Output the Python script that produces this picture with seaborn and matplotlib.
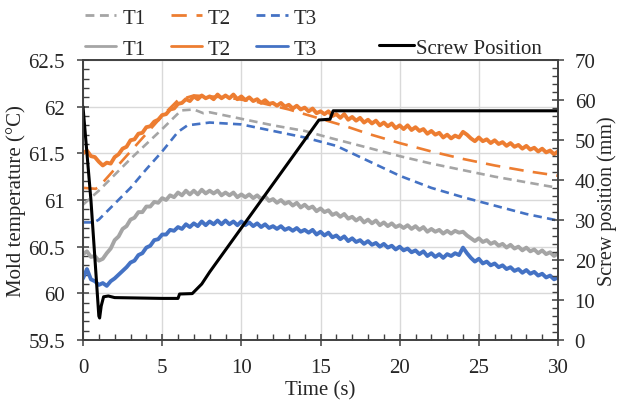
import matplotlib
matplotlib.use("Agg")
import matplotlib.pyplot as plt
import numpy as np
import seaborn as sns
from matplotlib.ticker import MultipleLocator

# time grid for the noisy thermocouple records (0.25 s steps, 0..30 s)
time_fine = np.linspace(0, 30, 121)

t2_solid = [61.50, 61.53, 61.47, 61.46, 61.41, 61.37, 61.40, 61.39, 61.46, 61.49, 61.55, 61.57, 61.64,
            61.65, 61.71, 61.72, 61.78, 61.79, 61.84, 61.86, 61.91, 61.92, 61.97, 61.98, 62.03,
            62.04, 62.08, 62.06, 62.11, 62.08, 62.12, 62.09, 62.11, 62.08, 62.13, 62.09, 62.12,
            62.09, 62.13, 62.08, 62.11, 62.07, 62.10, 62.06, 62.08, 62.04, 62.07, 62.03, 62.04,
            62.01, 62.04, 62.00, 62.02, 61.98, 62.01, 61.97, 61.99, 61.95, 61.98, 61.93, 61.95,
            61.92, 61.95, 61.90, 61.92, 61.88, 61.92, 61.86, 61.89, 61.85, 61.88, 61.83, 61.86,
            61.82, 61.85, 61.80, 61.83, 61.79, 61.82, 61.77, 61.80, 61.76, 61.80, 61.75, 61.78,
            61.74, 61.76, 61.71, 61.74, 61.70, 61.72, 61.67, 61.70, 61.66, 61.69, 61.67, 61.73,
            61.70, 61.66, 61.63, 61.67, 61.63, 61.65, 61.61, 61.64, 61.60, 61.62, 61.58, 61.61,
            61.57, 61.59, 61.55, 61.58, 61.54, 61.56, 61.52, 61.55, 61.51, 61.53, 61.49, 61.52]

t1_solid = [60.42, 60.45, 60.39, 60.40, 60.35, 60.37, 60.43, 60.48, 60.57, 60.61, 60.69, 60.72, 60.79,
            60.81, 60.87, 60.87, 60.93, 60.93, 60.98, 60.97, 61.02, 61.00, 61.05, 61.03, 61.08,
            61.05, 61.10, 61.06, 61.10, 61.06, 61.11, 61.07, 61.10, 61.07, 61.10, 61.05, 61.08,
            61.05, 61.08, 61.03, 61.06, 61.03, 61.06, 61.02, 61.05, 61.01, 61.04, 60.99, 61.01,
            60.97, 61.00, 60.96, 60.98, 60.94, 60.97, 60.92, 60.95, 60.91, 60.93, 60.88, 60.91,
            60.87, 60.89, 60.84, 60.86, 60.82, 60.85, 60.80, 60.82, 60.78, 60.81, 60.76, 60.79,
            60.75, 60.78, 60.73, 60.76, 60.72, 60.75, 60.71, 60.73, 60.70, 60.73, 60.69, 60.72,
            60.68, 60.71, 60.66, 60.69, 60.66, 60.68, 60.64, 60.67, 60.64, 60.67, 60.65, 60.66,
            60.62, 60.59, 60.56, 60.59, 60.55, 60.57, 60.53, 60.55, 60.51, 60.53, 60.49, 60.52,
            60.48, 60.50, 60.46, 60.49, 60.45, 60.47, 60.43, 60.46, 60.42, 60.44, 60.40, 60.43]

t3_solid = [60.16, 60.26, 60.15, 60.13, 60.09, 60.11, 60.08, 60.13, 60.16, 60.20, 60.24, 60.28, 60.33,
            60.35, 60.41, 60.43, 60.49, 60.51, 60.57, 60.58, 60.63, 60.63, 60.68, 60.67, 60.71,
            60.69, 60.74, 60.71, 60.75, 60.72, 60.77, 60.73, 60.77, 60.74, 60.78, 60.74, 60.78,
            60.74, 60.77, 60.73, 60.77, 60.73, 60.76, 60.72, 60.75, 60.71, 60.74, 60.70, 60.72,
            60.69, 60.72, 60.68, 60.70, 60.67, 60.70, 60.66, 60.68, 60.65, 60.68, 60.63, 60.66,
            60.62, 60.65, 60.60, 60.62, 60.58, 60.61, 60.56, 60.59, 60.55, 60.57, 60.53, 60.56,
            60.52, 60.54, 60.50, 60.53, 60.49, 60.51, 60.47, 60.50, 60.46, 60.48, 60.44, 60.46,
            60.42, 60.45, 60.40, 60.43, 60.39, 60.42, 60.38, 60.42, 60.40, 60.43, 60.41, 60.49,
            60.43, 60.38, 60.34, 60.37, 60.32, 60.34, 60.30, 60.32, 60.28, 60.30, 60.26, 60.28,
            60.24, 60.26, 60.22, 60.25, 60.21, 60.23, 60.19, 60.21, 60.17, 60.19, 60.15, 60.17]

# smooth (simulated) curves, dashed
t1_dash_time = [0, 1, 3, 5, 6.2, 7, 7.6, 8, 10, 12, 14, 15.5, 18, 20, 22, 24, 26, 28, 30]
t1_dash = [60.95, 61.10, 61.44, 61.76, 61.96, 61.97, 61.93, 61.94, 61.87, 61.80, 61.74, 61.67,
           61.56, 61.47, 61.39, 61.32, 61.25, 61.19, 61.13]

t2_dash_time = [0, 0.8, 1, 2, 3, 4, 5, 6, 7, 9, 11, 13, 15, 16.6, 18, 20, 22, 24, 26, 28, 30]
t2_dash = [61.13, 61.12, 61.14, 61.33, 61.52, 61.71, 61.90, 62.07, 62.12, 62.10, 62.05, 61.97,
           61.87, 61.79, 61.71, 61.61, 61.52, 61.44, 61.37, 61.31, 61.26]

t3_dash_time = [0, 0.7, 1, 2, 3, 4, 5, 6, 6.6, 8, 10, 12, 14, 16, 18, 20, 22, 24, 26, 28, 30]
t3_dash = [60.76, 60.76, 60.79, 60.96, 61.13, 61.33, 61.52, 61.73, 61.80, 61.83, 61.81, 61.74,
           61.67, 61.58, 61.42, 61.26, 61.13, 61.03, 60.94, 60.85, 60.78]

# screw position (mm), right axis
screw_time = [0, 0.5, 1.0, 1.05, 1.15, 1.3, 1.6, 2, 5, 6.0, 6.1, 6.9, 7.5, 8, 9, 10, 11, 12, 13,
              14, 14.9, 15.6, 15.8, 30]
screw_pos = [58.3, 35.0, 6.0, 5.5, 8.5, 10.8, 11.0, 10.6, 10.4, 10.4, 11.5, 11.6, 14.0, 17.0, 22.5,
             28.0, 33.5, 39.0, 44.5, 50.0, 55.0, 55.2, 57.3, 57.3]

c_gray = "#A5A5A5"
c_orange = "#ED7D31"
c_blue = "#4472C4"

sns.set_style("white")
plt.rcParams['font.family'] = ['Liberation Serif', 'DejaVu Serif']
plt.rcParams['font.size'] = 15

fig = plt.figure(figsize=(6.23, 4.06), dpi=100)
ax = fig.add_axes([83 / 623, 1 - 341 / 406, (558 - 83) / 623, (341 - 61) / 406])
ax2 = ax.twinx()

short_dash = (0, (3.2, 2.0))
long_dash = (0, (5.5, 3.5))

sns.lineplot(x=t1_dash_time, y=t1_dash, ax=ax, color=c_gray, linewidth=1.9, linestyle=short_dash, label="T1")
sns.lineplot(x=t2_dash_time, y=t2_dash, ax=ax, color=c_orange, linewidth=1.9, linestyle=long_dash, label="T2")
sns.lineplot(x=t3_dash_time, y=t3_dash, ax=ax, color=c_blue, linewidth=1.9, linestyle=short_dash, label="T3")
sns.lineplot(x=time_fine, y=t1_solid, ax=ax, color=c_gray, linewidth=2.8, label="T1")
sns.lineplot(x=time_fine, y=t2_solid, ax=ax, color=c_orange, linewidth=2.8, label="T2")
sns.lineplot(x=time_fine, y=t3_solid, ax=ax, color=c_blue, linewidth=2.8, label="T3")
sns.lineplot(x=screw_time, y=screw_pos, ax=ax2, color="black", linewidth=2.2, label="Screw Position")

ax.set_xlim(0, 30)
ax.set_ylim(59.5, 62.5)
ax2.set_ylim(0, 70)

ax.xaxis.set_major_locator(MultipleLocator(5))
ax.xaxis.set_minor_locator(MultipleLocator(1))
ax.yaxis.set_major_locator(MultipleLocator(0.5))
ax.yaxis.set_minor_locator(MultipleLocator(0.1))
ax2.yaxis.set_major_locator(MultipleLocator(10))
ax2.yaxis.set_minor_locator(MultipleLocator(2))
ax.yaxis.set_major_formatter(matplotlib.ticker.FuncFormatter(lambda v, p: f"{v:g}"))

ax.grid(True, which="major", color="#d9d9d9", linewidth=1.0)
ax.set_axisbelow(True)

for a in (ax, ax2):
    for s in a.spines.values():
        s.set_color("#404040")
        s.set_linewidth(1.2)
    a.tick_params(which="major", direction="inout", length=8, width=1.1, color="#404040", pad=9, labelsize=15)
    a.tick_params(which="minor", direction="in", length=4, width=1.0, color="#404040")
ax.tick_params(axis="x", which="both", bottom=True)
ax.tick_params(axis="y", which="both", left=True)
ax2.tick_params(axis="y", which="both", right=True)
ax2.tick_params(axis="y", which="major", pad=8)

ax.set_xlabel("Time (s)", fontsize=15, labelpad=2)
ax.set_ylabel("Mold temperature (°C)", fontsize=15, labelpad=2)
ax2.set_ylabel("Screw position (mm)", fontsize=14.5, labelpad=1)

h1, l1 = ax.get_legend_handles_labels()
h2, l2 = ax2.get_legend_handles_labels()
ax.get_legend().remove()
ax2.get_legend().remove()

order = [0, 3, 1, 4, 2, 5]
leg = fig.legend([h1[i] for i in order], [l1[i] for i in order], ncol=3, loc="upper left",
                 bbox_to_anchor=(85 / 623, 1 - 9 / 406), frameon=False, borderpad=0, borderaxespad=0,
                 handlelength=1.5, handletextpad=0.3, columnspacing=1.2, labelspacing=0.55, fontsize=15)
for line in leg.get_lines():
    line.set_linewidth(2.0)
fig.legend(h2, l2, loc="upper left", bbox_to_anchor=(379 / 623, 1 - 39 / 406), frameon=False,
           borderpad=0, borderaxespad=0, handlelength=1.7, handletextpad=0.1, fontsize=15)

fig.savefig("out.png", dpi=100, facecolor="white")
